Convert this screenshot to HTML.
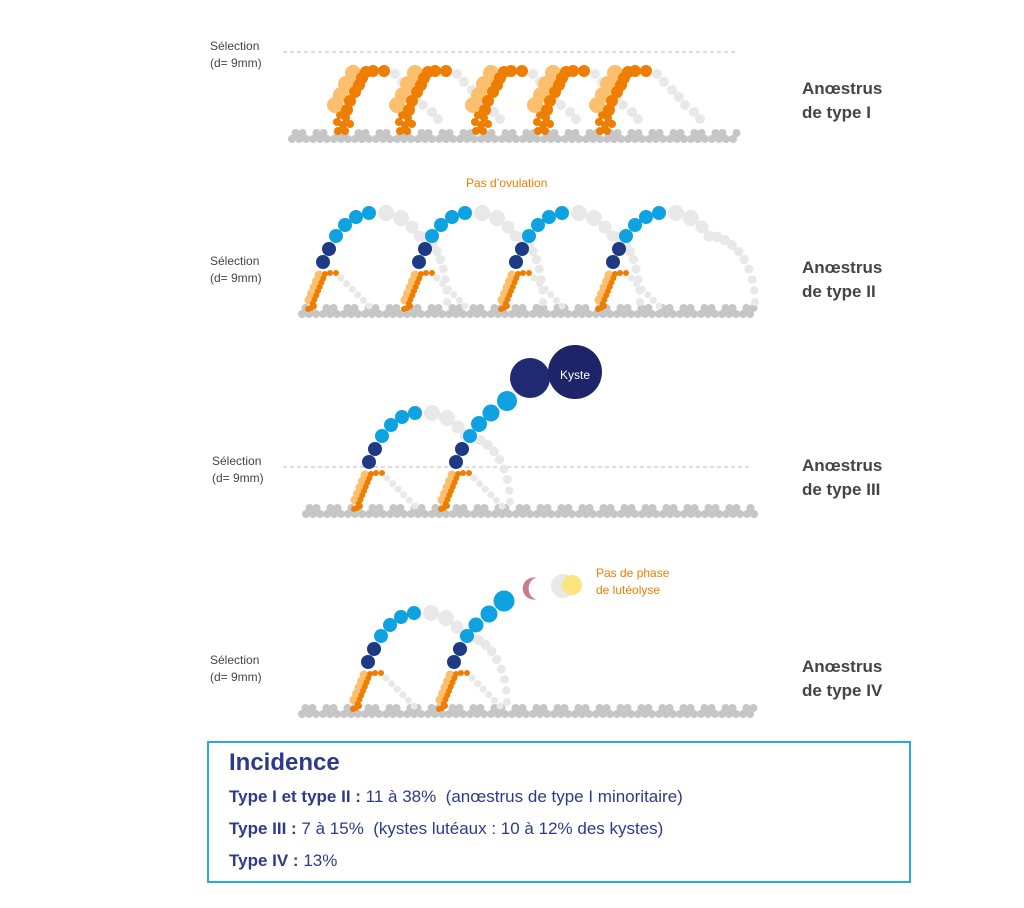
<!DOCTYPE html>
<html><head><meta charset="utf-8"><style>
body{margin:0;background:#fff;width:1024px;height:908px;overflow:hidden;font-family:"Liberation Sans",sans-serif}
svg{position:absolute;left:0;top:0}
.t{position:absolute;color:#444;font-size:12px;line-height:17px}
.a{position:absolute;color:#444;font-size:17px;font-weight:bold;line-height:24px;left:802px}
.box{position:absolute;left:207px;top:741px;width:700px;height:138px;border:2px solid #29a9e0;color:#2d3a8c}
.box div{position:absolute;left:20px;font-size:17px}
</style></head><body>
<svg id="s" width="1024" height="908" xmlns="http://www.w3.org/2000/svg">
<line x1="283" y1="52" x2="735" y2="52" stroke="#bbb" stroke-dasharray="4,3"/>
<line x1="283" y1="467" x2="752" y2="467" stroke="#bbb" stroke-dasharray="4,3"/>
<g id="g"></g>
<text x="575" y="379" fill="#fff" font-size="12" text-anchor="middle" font-family="Liberation Sans">Kyste</text>
</svg>
<div class="t" style="left:210px;top:38px">Sélection<br>(d= 9mm)</div>
<div class="t" style="left:210px;top:253px">Sélection<br>(d= 9mm)</div>
<div class="t" style="left:212px;top:453px">Sélection<br>(d= 9mm)</div>
<div class="t" style="left:210px;top:652px">Sélection<br>(d= 9mm)</div>
<div class="t" style="left:466px;top:175px;color:#ee7d00">Pas d’ovulation</div>
<div class="t" style="left:596px;top:565px;color:#ee7d00">Pas de phase<br>de lutéolyse</div>
<div class="a" style="top:77px">Anœstrus<br>de type I</div>
<div class="a" style="top:256px">Anœstrus<br>de type II</div>
<div class="a" style="top:454px">Anœstrus<br>de type III</div>
<div class="a" style="top:655px">Anœstrus<br>de type IV</div>
<div class="box">
<div style="top:6px;font-size:24px;font-weight:bold">Incidence</div>
<div style="top:44px"><b>Type I et type II :</b> 11 à 38%&nbsp; (anœstrus de type I minoritaire)</div>
<div style="top:76px"><b>Type III :</b> 7 à 15%&nbsp; (kystes lutéaux : 10 à 12% des kystes)</div>
<div style="top:108px"><b>Type IV :</b> 13%</div>
</div>
<script>
var g=document.getElementById('g'),h='';
function c(x,y,r,f){h+='<circle cx="'+x.toFixed(1)+'" cy="'+y.toFixed(1)+'" r="'+r+'" fill="'+f+'"/>';}
var DO='#ee7d00',LO='#fbbf6e',NV='#1e3a82',BL='#0ea3e0',GR='#e8e8e8',GD='#c6c6c6';
function line(x0,y0,x1,y1,n,r,f){for(var i=0;i<n;i++){var t=n==1?0:i/(n-1);c(x0+(x1-x0)*t,y0+(y1-y0)*t,r,f);}}
function ground(x0,x1,y){for(var x=x0;x<=x1;x+=7)c(x,y+2,4,GD);var i=0;for(var x=x0+3.5;x<=x1;x+=7,i++)if(i%3!=2)c(x,y-4,4,GD);}
function w1(b,gy){var d=b-340,o=gy-137;
 [[395,74],[402,82],[410,90],[417,97],[423,105],[432,112],[438,119]].forEach(function(p){c(p[0]+d,p[1]+o,5,GR)});
 [[340,115],[346,118],[337,122],[343,125],[338,131],[345,131],[350,124]].forEach(function(p){c(p[0]+d,p[1]+o,4,DO)});
 [[335,105],[341,95],[346,84],[353,73]].forEach(function(p){c(p[0]+d,p[1]+o,8,LO)});
 [[347,110],[350,101],[355,92],[359,85],[362,78],[366,72],[373,71],[384,71]].forEach(function(p){c(p[0]+d,p[1]+o,6,DO)});}
function small(b,gy){line(b+34,gy-34,b+62,gy-6,6,3.5,GR);line(b+2,gy-12,b+12,gy-37,5,4.5,LO);line(b+4,gy-4,b+18,gy-38,9,3,DO);c(b+1,gy-3,3,DO);c(b+7,gy-6,3,DO);c(b+23,gy-39,3,DO);c(b+29,gy-39,3,DO);}
function arch(b,gy,ext,full){
 c(b+79,gy-99,8,GR);c(b+94,gy-94,8,GR);c(b+105,gy-85,6.5,GR);
 if(full){var n=10;for(var i=0;i<n;i++){var t=i/(n-1);var a=t*Math.PI/2;c(b+112+(ext-112)*Math.sin(a),gy-76+66*(1-Math.cos(a)),5.5-1.5*t,GR);}}
 c(b+16,gy-50,7,NV);c(b+22,gy-63,7,NV);
 [[29,76],[38,87],[49,95],[62,99]].forEach(function(p){c(b+p[0],gy-p[1],7,BL)});}
var gyI=137;ground(292,738,gyI);[340,402,478,540,602].forEach(function(b){w1(b,gyI)});
var g2=312;ground(302,755,g2);[307,403,500,597].forEach(function(b,i){arch(b,g2,i==3?158:140,true);small(b,g2)});
var g3=512;ground(306,755,g3);arch(353,g3,157,true);small(353,g3);
c(456,g3-50,7,NV);c(462,g3-63,7,NV);c(470,g3-76,7,BL);c(479,g3-88,8,BL);c(491,g3-99,8.5,BL);c(507,g3-111,10,BL);
small(440,g3);c(530,378,20,'#202a70');c(575,372,27,'#1d2568');
var g4=712;ground(302,755,g4);arch(352,g4,155,true);small(352,g4);
c(454,g4-50,7,NV);c(460,g4-63,7,NV);c(467,g4-76,7,BL);c(476,g4-87,7.5,BL);c(489,g4-98,8.5,BL);c(504,g4-111,10.5,BL);small(438,g4);
h+='<path d="M537,578 A11,11 0 1 0 537,599 A8,10 0 1 1 537,578Z" fill="#cf7a8a"/>';
c(563,586,12,GR);c(572,585,10,'#fde47c');
g.innerHTML=h;
</script>
</body></html>
